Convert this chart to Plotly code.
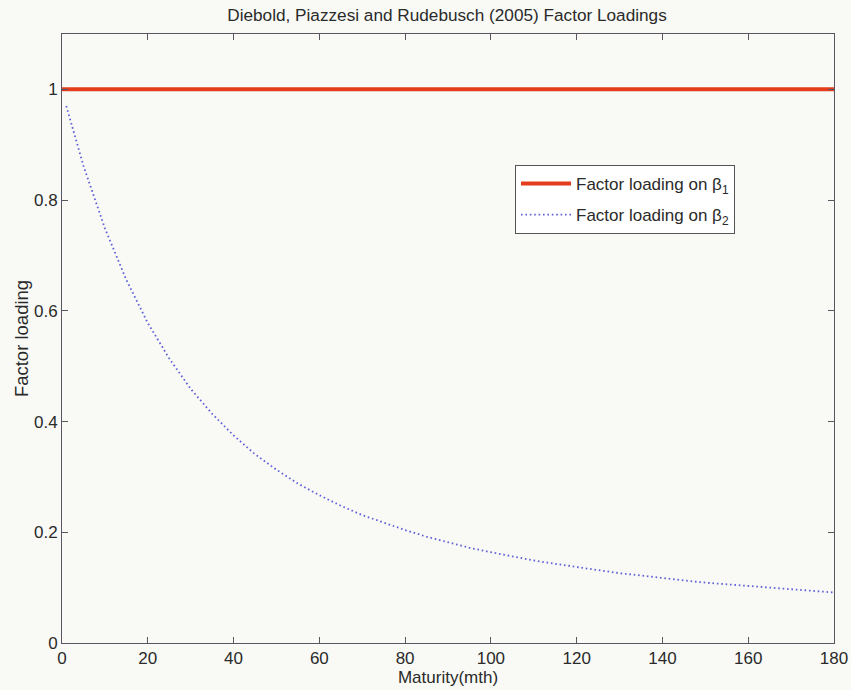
import plotly.graph_objects as go

# Data
maturity_b1 = [0, 180]
loading_b1 = [1.0, 1.0]

maturity_b2 = [1, 5, 10, 15, 20, 25, 30, 35, 40, 45, 50, 55, 60, 65, 70, 75, 80, 85, 90,
               95, 100, 105, 110, 115, 120, 125, 130, 135, 140, 145, 150, 155, 160, 165,
               170, 175, 180]
loading_b2 = [0.970, 0.862, 0.749, 0.656, 0.578, 0.514, 0.459, 0.414, 0.375, 0.341, 0.313,
              0.288, 0.267, 0.248, 0.231, 0.217, 0.204, 0.192, 0.182, 0.172, 0.164, 0.156,
              0.149, 0.143, 0.137, 0.131, 0.126, 0.122, 0.117, 0.113, 0.109, 0.106, 0.103,
              0.0995, 0.0965, 0.0938, 0.0912]

x_ticks = [0, 20, 40, 60, 80, 100, 120, 140, 160, 180]
y_ticks = [0, 0.2, 0.4, 0.6, 0.8, 1]

FONT = "Liberation Sans, Arial, sans-serif"
BG = "#f9faf6"
AX = "#5a5560"
TXT = "#2a2a2a"

fig = go.Figure()
fig.add_trace(go.Scatter(
    x=maturity_b1, y=loading_b1, mode="lines", legendgroup="b1",
    line=dict(color="#e43c1c", width=4),
    name="Factor loading on β<sub>1</sub>"))
fig.add_trace(go.Scatter(
    x=maturity_b2, y=loading_b2, mode="lines", legendgroup="b2",
    line=dict(color="#6060d8", width=1.8, dash="1.6px,2.8px"),
    name="Factor loading on β<sub>2</sub>"))

axis_common = dict(
    showgrid=False, zeroline=False, showline=True, linecolor=AX, linewidth=1,
    mirror="ticks", ticks="inside", ticklen=6, tickcolor=AX, automargin=False,
    tickfont=dict(family=FONT, size=17, color=TXT),
)

fig.update_layout(
    width=851, height=690,
    margin=dict(l=62, r=17, t=34, b=47),
    paper_bgcolor=BG, plot_bgcolor=BG,
    font=dict(family=FONT, color=TXT),
    title=dict(text="Diebold, Piazzesi and Rudebusch (2005) Factor Loadings",
               x=447 / 851, xanchor="center", y=1 - 15 / 690, yanchor="middle",
               font=dict(family=FONT, size=17.2, color=TXT)),
    xaxis=dict(range=[0, 180], tickvals=x_ticks,
               title=dict(text="Maturity(mth)", font=dict(family=FONT, size=17), standoff=0),
               **axis_common),
    yaxis=dict(range=[0, 1.1], tickvals=y_ticks,
               title=dict(text="Factor loading", font=dict(family=FONT, size=18.5), standoff=0),
               **axis_common),
    legend=dict(x=(515 - 62) / 772, y=0.785, xanchor="left", yanchor="top",
                bgcolor="#ffffff", bordercolor="#555", borderwidth=1,
                font=dict(family=FONT, size=17, color=TXT),
                tracegroupgap=6, itemwidth=50),
    showlegend=True,
)

fig.write_html("out.html")
